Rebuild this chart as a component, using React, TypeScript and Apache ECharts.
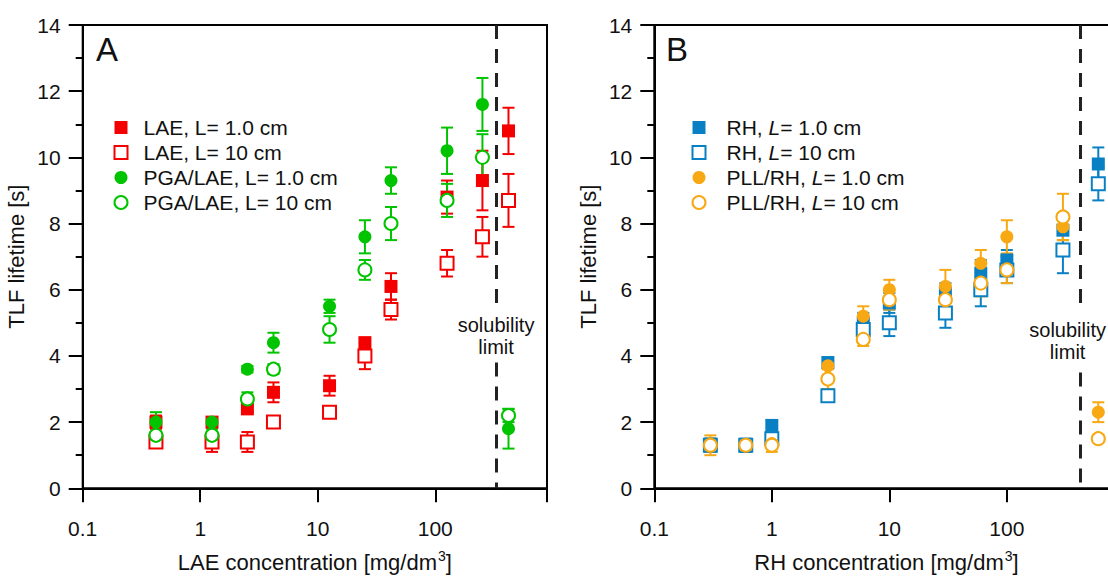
import React, { useEffect, useRef } from "react";
import * as echarts from "echarts";

// Panel A: LAE concentration [mg/dm3]
const xA = [0.42, 1.26, 2.52, 4.2, 12.6, 25.2, 42, 126, 252, 420];
const lae1 = [2.0, 2.0, 2.4, 2.9, 3.1, 4.4, 6.1, 8.8, 9.3, 10.8];
const lae1Err = [0.2, 0.15, 0.1, 0.3, 0.3, 0.15, 0.4, 0.5, 0.9, 0.7];
const lae10 = [1.4, 1.4, 1.4, 2.0, 2.3, 4.0, 5.4, 6.8, 7.6, 8.7];
const lae10Err = [0.1, 0.3, 0.3, 0.1, 0.1, 0.4, 0.3, 0.4, 0.6, 0.8];
const pga1 = [2.0, 2.0, 3.6, 4.4, 5.5, 7.6, 9.3, 10.2, 11.6, 1.8];
const pga1Err = [0.3, 0.15, 0.1, 0.3, 0.2, 0.5, 0.4, 0.7, 0.8, 0.6];
const pga10 = [1.6, 1.6, 2.7, 3.6, 4.8, 6.6, 8.0, 8.7, 10.0, 2.2];
const pga10Err = [0.1, 0.2, 0.2, 0.15, 0.4, 0.3, 0.5, 0.5, 0.7, 0.2];

// Panel B: RH concentration [mg/dm3]
const xB = [0.3, 0.6, 1, 3, 6, 10, 30, 60, 100, 300, 600];
const rh1 = [1.3, 1.3, 1.9, 3.8, 5.0, 5.6, 5.9, 6.5, 6.9, 7.8, 9.8];
const rh1Err = [0.2, 0.2, 0.15, 0.15, 0.3, 0.3, 0.3, 0.4, 0.3, 0.3, 0.5];
const rh10 = [1.3, 1.3, 1.5, 2.8, 4.8, 5.0, 5.3, 6.0, 6.6, 7.2, 9.2];
const rh10Err = [0.2, 0.1, 0.1, 0.1, 0.3, 0.4, 0.45, 0.5, 0.4, 0.7, 0.5];
const pll1 = [1.3, 1.3, 1.35, 3.7, 5.2, 6.0, 6.1, 6.8, 7.6, 7.9, 2.3];
const pll1Err = [0.2, 0.1, 0.1, 0.1, 0.3, 0.3, 0.5, 0.4, 0.5, 0.4, 0.3];
const pll10 = [1.3, 1.3, 1.3, 3.3, 4.5, 5.7, 5.7, 6.2, 6.6, 8.2, 1.5];
const pll10Err = [0.3, 0.1, 0.2, 0.3, 0.2, 0.3, 0.3, 0.4, 0.4, 0.7, 0.1];

const namesA = ["LAE, L= 1.0 cm", "LAE, L= 10 cm", "PGA/LAE, L= 1.0 cm", "PGA/LAE, L= 10 cm"];
const namesB = ["RH, L= 1.0 cm", "RH, L= 10 cm", "PLL/RH, L= 1.0 cm", "PLL/RH, L= 10 cm"];
const yTicks = [0, 14];
const xRange = [0.1, 893];
const solubilityText = 329;
const solubilityLineA = 329;
const solubilityLineB = 420;

const RED = "#f50000";
const GREEN = "#00c400";
const BLUE = "#0a80c4";
const ORANGE = "#f8a812";
const FONT = "'Liberation Sans', Arial, sans-serif";

function errSeries(xs: number[], ys: number[], es: number[], color: string, gi: number, id: string) {
  return {
    type: "custom",
    name: id,
    xAxisIndex: gi,
    yAxisIndex: gi,
    silent: true,
    data: xs.map((x, i) => [x, ys[i], es[i]]),
    encode: { x: 0, y: 1 },
    renderItem: (params: any, api: any) => {
      const x = api.value(0);
      const y = api.value(1);
      const e = api.value(2);
      const lo = api.coord([x, y - e]);
      const hi = api.coord([x, y + e]);
      const w = 6;
      const st = { stroke: color, lineWidth: 2 };
      return {
        type: "group",
        children: [
          { type: "line", shape: { x1: lo[0], y1: lo[1], x2: hi[0], y2: hi[1] }, style: st },
          { type: "line", shape: { x1: lo[0] - w, y1: lo[1], x2: lo[0] + w, y2: lo[1] }, style: st },
          { type: "line", shape: { x1: hi[0] - w, y1: hi[1], x2: hi[0] + w, y2: hi[1] }, style: st },
        ],
      };
    },
  };
}

function pts(name: string, xs: number[], ys: number[], color: string, symbol: string, open: boolean, gi: number) {
  return {
    type: "scatter",
    name,
    xAxisIndex: gi,
    yAxisIndex: gi,
    symbol,
    symbolSize: 13,
    data: xs.map((x, i) => [x, ys[i]]),
    itemStyle: open
      ? { color: "#fff", borderColor: color, borderWidth: 2, opacity: 1 }
      : { color, borderColor: color, borderWidth: 0, opacity: 1 },
    emphasis: { disabled: true },
  };
}

function solSeries(gi: number, xText: number, yText: number, xLine: number, offX: number, gapLo: number, gapHi: number) {
  return {
    type: "scatter",
    name: "sol" + gi,
    xAxisIndex: gi,
    yAxisIndex: gi,
    symbolSize: 1,
    itemStyle: { color: "#fff", opacity: 1 },
    silent: true,
    data: [[xText, yText]],
    label: {
      show: true,
      position: "inside",
      offset: [offX, 0],
      formatter: "solubility\nlimit",
      fontSize: 20,
      lineHeight: 22,
      color: "#111",
      opacity: 1,
      textBorderWidth: 0,
      fontFamily: FONT,
    },
    labelLayout: { hideOverlap: false },
    markLine: {
      silent: true,
      symbol: "none",
      label: { show: false },
      lineStyle: { color: "#222", width: 3, type: [14, 10] },
      data: [
        [{ coord: [xLine, yTicks[1]] }, { coord: [xLine, gapHi] }],
        [{ coord: [xLine, gapLo] }, { coord: [xLine, yTicks[0]] }],
      ],
    },
  };
}

function xFmt(v: number) {
  const l = Math.log10(v);
  const r = Math.round(l);
  if (Math.abs(l - r) < 1e-6 && r <= 2) return r < 0 ? "0.1" : String(Math.round(Math.pow(10, r)));
  return "";
}

function xAxisOf(gi: number, title: string) {
  return {
    type: "log",
    logBase: 10,
    gridIndex: gi,
    min: xRange[0],
    max: xRange[1],
    name: title + " [mg/dm{sup|3}]",
    nameLocation: "middle",
    nameGap: 61,
    nameTextStyle: {
      fontSize: 22,
      color: "#111",
      fontFamily: FONT,
      rich: { sup: { fontSize: 14, verticalAlign: "top", padding: [0, 0, 12, 1], fontFamily: FONT, color: "#111" } },
    },
    axisLine: { show: true, onZero: false, lineStyle: { color: "#000", width: 2 } },
    axisTick: { show: true, length: 14, lineStyle: { color: "#000", width: 2 } },
    minorTick: { show: false },
    axisLabel: { margin: 30, fontSize: 21, color: "#111", fontFamily: FONT, formatter: xFmt },
    splitLine: { show: false },
  };
}

function yAxisOf(gi: number) {
  return {
    type: "value",
    gridIndex: gi,
    min: yTicks[0],
    max: yTicks[1],
    interval: 2,
    name: "TLF lifetime [s]",
    nameLocation: "middle",
    nameGap: 55,
    nameTextStyle: { fontSize: 22, color: "#111", fontFamily: FONT },
    axisLine: { show: true, lineStyle: { color: "#000", width: 2 } },
    axisTick: { show: true, length: 14, lineStyle: { color: "#000", width: 2 } },
    minorTick: { show: true, splitNumber: 2, length: 7, lineStyle: { color: "#000", width: 2 } },
    axisLabel: { margin: 22, fontSize: 21, color: "#111", fontFamily: FONT },
    splitLine: { show: false },
    minorSplitLine: { show: false },
  };
}

export default function App() {
  const ref = useRef<HTMLDivElement>(null);
  useEffect(() => {
    if (!ref.current) return;
    const chart = echarts.init(ref.current, undefined, { renderer: "svg" });
    const legendCommon = {
      orient: "vertical",
      itemWidth: 13,
      itemHeight: 13,
      itemGap: 4,
      selectedMode: false,
    };
    chart.setOption({
      animation: false,
      backgroundColor: "#fff",
      grid: [
        { left: 82.7, top: 25, width: 464.3, height: 463.3, show: true, borderColor: "#000", borderWidth: 2, containLabel: false, outerBoundsMode: "none" },
        { left: 654.3, top: 25, width: 464.3, height: 463.3, show: true, borderColor: "#000", borderWidth: 2, containLabel: false, outerBoundsMode: "none" },
      ],
      xAxis: [xAxisOf(0, "LAE concentration"), xAxisOf(1, "RH concentration")],
      yAxis: [yAxisOf(0), yAxisOf(1)],
      legend: [
        {
          ...legendCommon,
          left: 108.5,
          top: 112,
          data: namesA,
          formatter: (n: string) => "{s|}" + n,
          textStyle: {
            fontSize: 21,
            color: "#111",
            fontFamily: FONT,
            rich: { s: { width: 11 } },
          },
        },
        {
          ...legendCommon,
          left: 686.5,
          top: 112,
          data: namesB,
          formatter: (n: string) => "{s|}" + n.replace("L=", "{i|L}="),
          textStyle: {
            fontSize: 21,
            color: "#111",
            fontFamily: FONT,
            rich: {
              s: { width: 16 },
              i: { fontStyle: "italic", fontSize: 21, color: "#111", fontFamily: FONT },
            },
          },
        },
      ],
      graphic: [
        { type: "text", left: 96, top: 33, style: { text: "A", fontSize: 33, fill: "#111", fontFamily: FONT } },
        { type: "text", left: 666, top: 33, style: { text: "B", fontSize: 33, fill: "#111", fontFamily: FONT } },
      ],
      series: [
        errSeries(xA, lae1, lae1Err, RED, 0, "e1"),
        pts(namesA[0], xA, lae1, RED, "rect", false, 0),
        errSeries(xA, lae10, lae10Err, RED, 0, "e2"),
        pts(namesA[1], xA, lae10, RED, "rect", true, 0),
        errSeries(xA, pga1, pga1Err, GREEN, 0, "e3"),
        pts(namesA[2], xA, pga1, GREEN, "circle", false, 0),
        errSeries(xA, pga10, pga10Err, GREEN, 0, "e4"),
        pts(namesA[3], xA, pga10, GREEN, "circle", true, 0),
        solSeries(0, solubilityText, 4.6, solubilityLineA, 0, 3.8, 5.47),
        errSeries(xB, rh1, rh1Err, BLUE, 1, "e5"),
        pts(namesB[0], xB, rh1, BLUE, "rect", false, 1),
        errSeries(xB, rh10, rh10Err, BLUE, 1, "e6"),
        pts(namesB[1], xB, rh10, BLUE, "rect", true, 1),
        errSeries(xB, pll1, pll1Err, ORANGE, 1, "e7"),
        pts(namesB[2], xB, pll1, ORANGE, "circle", false, 1),
        errSeries(xB, pll10, pll10Err, ORANGE, 1, "e8"),
        pts(namesB[3], xB, pll10, ORANGE, "circle", true, 1),
        solSeries(1, solubilityText, 4.45, solubilityLineB, 0, 3.5, 5.3),
      ],
    });
    return () => chart.dispose();
  }, []);
  return <div ref={ref} style={{ position: "absolute", left: 0, top: 0, width: 1108, height: 579 }} />;
}
